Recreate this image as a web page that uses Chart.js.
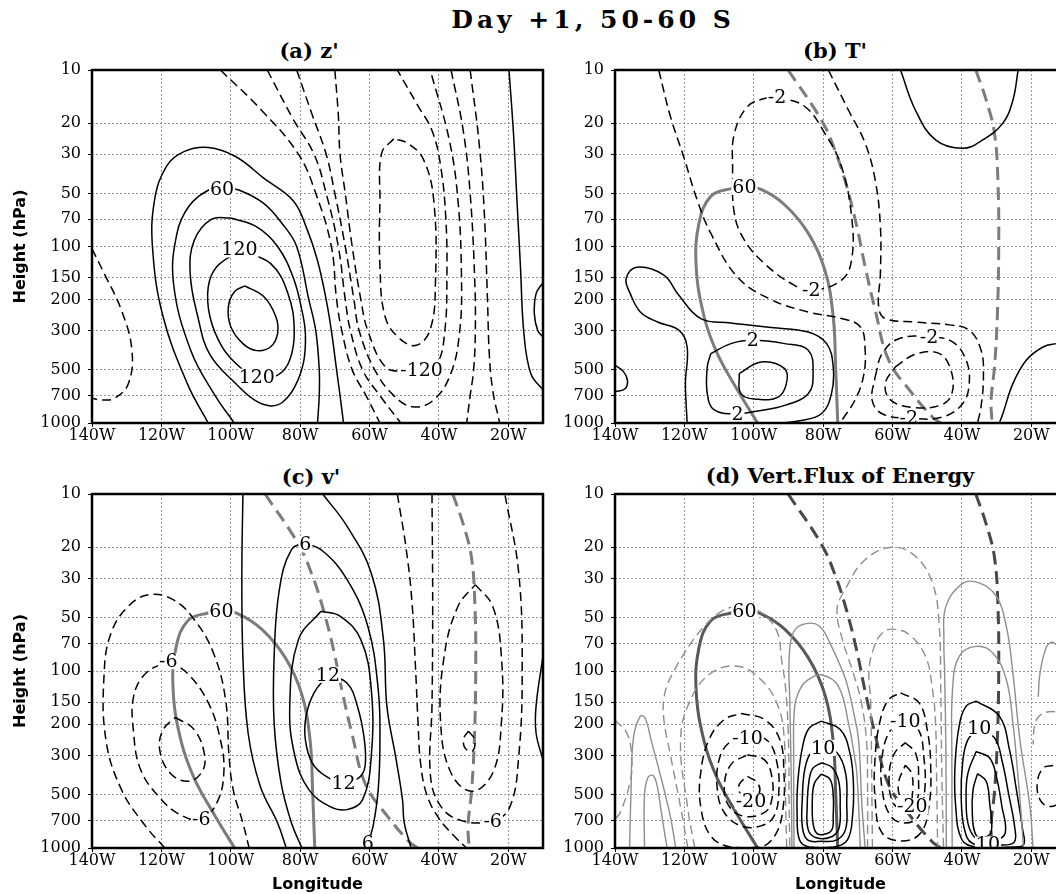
<!DOCTYPE html>
<html>
<head>
<meta charset="utf-8">
<title>Day +1, 50-60 S</title>
<script src="https://cdn.jsdelivr.net/npm/chart.js@4.4.1/dist/chart.umd.min.js"></script>
<style>
  html, body { margin: 0; padding: 0; background: #fff; overflow: hidden; }
  body { position: relative; width: 1056px; height: 894px; }
  canvas { position: absolute; }
  .ttl { position: absolute; transform: translateX(-50%); white-space: nowrap;
         font-family: "DejaVu Serif", serif; font-weight: bold; line-height: 1; color: #000; }
  #main { left: 593px; top: 7px; font-size: 25px; letter-spacing: 4px; }
  .sub { font-size: 21px; }
</style>
</head>
<body>
<div id="main" class="ttl">Day +1, 50-60 S</div>
<div class="ttl sub" style="left:309px;top:40px">(a) z'</div>
<div class="ttl sub" style="left:835px;top:40px">(b) T'</div>
<div class="ttl sub" style="left:311px;top:466px">(c) v'</div>
<div class="ttl sub" style="left:840px;top:465px">(d) Vert.Flux of Energy</div>
<canvas id="cA" width="555" height="420" style="left:0;top:40px"></canvas>
<canvas id="cB" width="550" height="420" style="left:530px;top:40px"></canvas>
<canvas id="cC" width="555" height="430" style="left:0;top:464px"></canvas>
<canvas id="cD" width="550" height="430" style="left:530px;top:464px"></canvas>
<script>
// axes
const lonTicks = [-140, -120, -100, -80, -60, -40, -20];
const presTicks = [10, 20, 30, 50, 70, 100, 150, 200, 300, 500, 700, 1000];

// contour lines, points are [longitude (negative = W), pressure hPa]

// (a) z'
const a_pos150 = [[-96,167],[-90.5,192],[-87,250],[-86.5,311],[-88.5,370],[-92.5,389],[-96.5,355],[-100,285],[-100.7,220],[-99,181],[-96,167]];
const a_pos120 = [[-97.5,106],[-88.5,125],[-83.5,185],[-81.7,298],[-83,440],[-86.5,536],[-92.5,555],[-97.5,480],[-102.5,370],[-106,250],[-106.5,170],[-104,130],[-97.5,106]];
const a_pos90 = [[-100,69],[-92.5,77.5],[-86.5,100],[-82,150],[-79.5,230],[-78.5,311],[-79,450],[-81.5,620],[-85,760],[-88.5,800],[-93,745],[-98.5,600],[-106,410],[-109.5,250],[-111.7,142],[-110.5,92],[-105.5,70],[-100,69]];
const a_pos60 = [[-99,1000],[-104.5,700],[-111.5,390],[-116.5,162],[-115.5,84],[-112,59],[-106.5,48],[-102.5,46],[-97.5,48],[-90.5,57],[-85,75],[-81,100],[-77.5,200],[-75.5,300],[-74.5,500],[-74.5,700],[-75,1000]];
const a_pos30 = [[-106.5,1000],[-112.5,600],[-119.5,250],[-122.5,105],[-122,55],[-118.5,35],[-113.5,29],[-106.5,27.5],[-98.5,31],[-90.5,41],[-82,55],[-78,80],[-75,120],[-72.5,200],[-71,300],[-69.5,500],[-68.5,700],[-67.5,1000]];
const a_posR = [[-19.8,10],[-18.5,23],[-17.5,55],[-16.5,130],[-15.5,311],[-13.5,526],[-10,650]];
const a_posR2 = [[-10,160],[-12,185],[-12.5,240],[-11.5,300],[-10,325]];
const a_neg30L = [[-103,10],[-91,17],[-80.5,30],[-75.5,50],[-71,100],[-69.5,200],[-68,300],[-65,500],[-61,700],[-57,1000]];
const a_neg60L = [[-89.5,10],[-82,19],[-76,30],[-72.5,50],[-69,100],[-67,200],[-65.5,300],[-62,500],[-57,700],[-51,1000]];
const a_neg90 = [[-81,10],[-76.5,18],[-72.5,30],[-70,50],[-67,100],[-64.5,200],[-63,300],[-58.5,500],[-53,700],[-47.5,810],[-41.5,740],[-36.5,520],[-34,300],[-33.5,150],[-34.5,55],[-37,25],[-42.5,10]];
const a_neg120 = [[-70,10],[-69,18],[-68.5,30],[-67,50],[-65,100],[-62.5,200],[-60.5,300],[-55.5,480],[-50.5,510],[-45,505],[-40.5,460],[-38.3,300],[-37.7,150],[-38,70],[-39.5,35],[-42,22],[-46,16],[-52,10]];
const a_neg150 = [[-53,24.5],[-56.5,29.6],[-57,54.6],[-57,130],[-55.5,250],[-51.5,330],[-46.5,363],[-42.5,295],[-41,160],[-41.5,54.6],[-44.5,32],[-49,26],[-53,24.5]];
const a_neg60R = [[-36.5,10],[-33,22],[-31,50],[-29.7,150],[-29.5,300],[-30,500],[-31,700],[-32,1000]];
const a_neg30R = [[-31,10],[-28.5,25],[-27,60],[-26,200],[-25.5,400],[-24.5,650],[-22.5,1000]];
const a_negL = [[-140,103],[-136.5,142],[-131.5,230],[-128.5,386],[-129.5,597],[-133.5,725],[-137.5,740],[-140,725]];
const a_labels = [[-102.5,47,'60'],[-97.5,104,'120'],[-92.5,546,'120'],[-45,500,'-120']];

// (b) T'
const b_pos1 = [[-119.2,1000],[-119.7,598],[-119.2,371],[-121.6,298],[-127.9,267],[-132.7,235],[-135.6,185],[-136.8,152],[-133.7,131],[-126,145],[-121.6,189],[-115.3,256],[-106.6,271],[-95,288],[-84.3,305],[-79,355],[-77.1,481],[-77.6,682],[-80.5,886],[-87.2,975],[-92,1000]];
const b_pos2 = [[-112.4,405],[-106.6,355],[-100.3,340],[-91.1,355],[-84.3,387],[-82.9,525],[-84.3,682],[-91.1,795],[-98.9,855],[-104.7,886],[-111.4,843],[-113.4,682],[-113.4,481],[-112.4,405]];
const b_pos3 = [[-104.2,525],[-97.9,451],[-91.1,492],[-90.6,598],[-93,713],[-98.9,734],[-103.7,682],[-104.2,525]];
const b_posTR = [[-57.7,10],[-53.4,16.9],[-47.6,24.9],[-39.8,27.8],[-34,24.9],[-28.2,20],[-25.3,14.8],[-23.8,10]];
const b_posBR = [[-29.2,1000],[-28.2,886],[-25.3,598],[-21.4,440],[-16.6,371],[-12.7,355],[-10,350]];
const b_posL = [[-140,470],[-137.6,510],[-136.4,575],[-137.1,640],[-140,665]];
const b_negA = [[-127.4,10],[-124,18.4],[-120.2,31],[-116.3,54.6],[-112.4,84],[-104.7,149],[-95,200],[-84.3,235],[-74.7,256],[-69.3,285],[-67.9,386],[-68.4,546],[-70.8,740],[-74.2,940],[-75.1,1000]];
const b_negB = [[-78.5,10],[-72.7,16.9],[-67.9,26],[-65,42],[-63.5,77],[-63.5,142],[-64,220],[-62.1,256],[-53.4,268],[-43.7,278],[-37.9,298],[-34.5,386],[-33.8,546],[-34.5,810],[-35.5,1000]];
const b_neg2U = [[-93.3,14.2],[-85.3,16.1],[-79.5,22.9],[-74.7,35.3],[-71.8,67.9],[-71.8,119],[-74.7,155],[-83.4,177],[-89.2,162],[-96.9,125],[-102.7,92],[-105.6,65],[-106.1,35.3],[-105.6,22.9],[-101.8,16.1],[-96.9,14.5],[-93.3,14.2]];
const b_neg2L = [[-65,546],[-63,405],[-58.2,333],[-49.5,325],[-42.7,347],[-38.8,440],[-37.9,598],[-39.8,777],[-45.6,925],[-54.8,940],[-63,886],[-65.9,740],[-65,546]];
const b_neg3 = [[-59.2,481],[-53.4,408],[-46.6,403],[-43.2,500],[-42.9,682],[-46.1,792],[-54.3,815],[-60.6,740],[-62.1,598],[-59.2,481]];
const b_labels = [[-102.7,46,'60'],[-93.3,14.2,'-2'],[-83.4,177,'-2'],[-100.3,340,'2'],[-104.7,886,'2'],[-49.5,325,'-2'],[-55.3,935,'-2']];

// reference lines repeated in (b), (c), (d)
const ov_g60 = [[-98.9,1000],[-104.7,650],[-110.5,405],[-114.3,250],[-116.6,130],[-115.8,74],[-112.4,52],[-106.6,47],[-102.7,46],[-97.9,47.5],[-91.1,58],[-84.3,84],[-79.5,136],[-77.1,250],[-76.4,481],[-75.8,1000]];
const ov_d1 = [[-90.1,10],[-80.5,19.2],[-76.6,28.5],[-73.2,45.8],[-70.3,77],[-67.9,130],[-65,229],[-61.1,440],[-54.3,682],[-48.5,925],[-46.1,1000]];
const ov_d2 = [[-36,10],[-33,14.8],[-30.6,22.9],[-29.6,44],[-29.4,105],[-29.8,250],[-30.6,481],[-31.6,740],[-31.3,1000]];

// (c) v'
const c_posA = [[-96.5,10],[-96.8,28],[-96.5,83],[-95,224],[-91.5,448],[-86.5,722],[-84,1000]];
const c_posB = [[-73.5,10],[-66.5,15.2],[-59.5,28],[-56,66.5],[-55,158],[-52.5,303],[-50.5,533],[-50,722],[-48,1000]];
const c_pos6 = [[-79.5,1000],[-82.5,722],[-85.5,429],[-87.5,197],[-87.5,83],[-86,34.7],[-82.5,20.6],[-78.5,19.3],[-73.5,21],[-66.5,30.4],[-60.5,55.9],[-57.5,127],[-57,244],[-57.5,468],[-59,755],[-60.5,937],[-61.5,1000]];
const c_pos9 = [[-74,46],[-68.5,49],[-62.5,66.5],[-59.5,127],[-59.5,303],[-62,533],[-66.5,607],[-71.5,582],[-77.5,468],[-81.5,303],[-83,158],[-80.5,66.5],[-74,46]];
const c_pos12 = [[-72,105],[-66.5,117],[-63.5,158],[-61.5,244],[-61.3,346],[-63,400],[-67.5,429],[-72.5,394],[-76.5,331],[-78.5,244],[-78.3,180],[-76,133],[-72,105]];
const c_posR = [[-10,82],[-12,158],[-12,224],[-10,318]];
const c_neg3L = [[-119,1000],[-124.5,755],[-131.5,468],[-136,244],[-136.5,103],[-134.5,61],[-129.5,43],[-123.5,37],[-116.5,39.6],[-110.5,51.3],[-105,79],[-101.5,145],[-100.5,303],[-99.3,468],[-96.5,722],[-94.7,1000]];
const c_neg6 = [[-118,88],[-112.5,103],[-106.5,151],[-103,244],[-102,377],[-104,555],[-108.5,690],[-114.5,650],[-120.5,520],[-126,360],[-128,224],[-128,139],[-124.5,103],[-118,88]];
const c_neg9 = [[-116,183],[-110.5,215],[-107.5,303],[-108.5,377],[-112.5,420],[-117.5,377],[-120.5,278],[-119.5,215],[-116,183]];
const c_neg3R = [[-52,10],[-49.5,20],[-47.8,40],[-46.7,100],[-46,200],[-45.3,330],[-43.5,500],[-40,680],[-35,880],[-32,1000]];
const c_neg6R = [[-42,10],[-41.8,43],[-42,158],[-42.5,377],[-40,560],[-34.5,690],[-24.5,705],[-19.5,582],[-17,303],[-16,103],[-17,27.9],[-21,10]];
const c_neg9R = [[-29.5,32.5],[-24.5,43.1],[-22,82.6],[-22,197],[-24.5,377],[-30.5,478],[-36.5,377],[-39.5,197],[-38.5,82.6],[-34.5,43.1],[-29.5,32.5]];
const c_neg12R = [[-31.5,219],[-29.7,244],[-30.3,283],[-32.5,272],[-32.8,239],[-31.5,219]];
const c_labels = [[-102.7,46,'60'],[-78.5,19.3,'6'],[-72,105,'12'],[-67.5,429,'12'],[-118,88,'-6'],[-108.5,690,'-6'],[-60.5,940,'6'],[-24.5,705,'-6']];

// (d) vertical flux of energy
const d_neg5a = [[-103.7,174],[-96.9,188],[-92.5,244],[-91.3,377],[-91.5,582],[-93.5,823],[-97.9,990],[-106.6,990],[-112.4,855],[-115.3,582],[-115.3,377],[-112.9,244],[-108.5,188],[-103.7,174]];
const d_neg10a = [[-101.8,229],[-96,248],[-93.3,331],[-92.8,489],[-94.2,662],[-97.9,750],[-103.7,750],[-108.5,630],[-110.5,468],[-110,318],[-107.1,254],[-101.8,229]];
const d_neg15a = [[-101.8,297],[-96.9,318],[-94.8,394],[-94.8,533],[-96.9,630],[-102.7,662],[-107.1,582],[-108.5,448],[-106.6,338],[-101.8,297]];
const d_neg20a = [[-101.8,394],[-98.9,429],[-98.4,489],[-100.8,545],[-103.7,500],[-104.2,438],[-101.8,394]];
const d_neg5b = [[-57.7,133],[-52.4,151],[-50,215],[-49,346],[-49.5,582],[-51.9,823],[-57.2,912],[-63,823],[-65,533],[-65,303],[-63.5,188],[-61.1,145],[-57.7,133]];
const d_neg10b = [[-56.3,193],[-52.5,215],[-51,303],[-50.7,468],[-52.5,662],[-56.3,722],[-60.5,662],[-63,468],[-63,303],[-60.5,215],[-56.3,193]];
const d_neg15b = [[-56.3,254],[-53.3,293],[-52.5,410],[-53.2,557],[-56.3,607],[-59.8,557],[-61,394],[-59.5,293],[-56.3,254]];
const d_neg20b = [[-56.3,340],[-54.5,380],[-54.2,470],[-55,560],[-57.5,530],[-58.3,430],[-56.3,340]];
const d_negR = [[-13.7,342],[-16.6,354],[-18.3,429],[-17.5,533],[-15.1,582],[-12.2,557],[-10.3,429]];
const d_pos5a = [[-80.5,192],[-75,215],[-72.3,290],[-71.3,420],[-71.5,650],[-73,900],[-77,986],[-84,986],[-86.8,900],[-87.5,650],[-87.3,420],[-85.8,260],[-84,210],[-80.5,192]];
const d_pos10a = [[-80,270],[-76,290],[-73.5,380],[-73.2,560],[-73.5,780],[-76,900],[-80.5,917],[-84.5,900],[-86,760],[-86,520],[-85.3,360],[-83.5,290],[-80,270]];
const d_pos15a = [[-80.5,330],[-77.5,350],[-75.5,420],[-75.1,580],[-75.5,780],[-78,870],[-82,875],[-84.3,790],[-84.6,580],[-84.1,420],[-83,355],[-80.5,330]];
const d_pos20a = [[-80.5,382],[-78,410],[-77.1,500],[-77.1,650],[-77.5,790],[-80,840],[-82,820],[-83,700],[-83.1,520],[-82.5,430],[-80.5,382]];
const d_pos5b = [[-35.9,148],[-29.2,180],[-26.3,278],[-24.3,468],[-22.5,788],[-22.2,957],[-25.3,986],[-35.9,986],[-40,898],[-41.8,582],[-42,346],[-40.8,205],[-38.8,158],[-35.9,148]];
const d_pos10b = [[-35,210],[-30.5,240],[-28.3,330],[-26.5,500],[-24.8,760],[-25,930],[-30,960],[-37,940],[-39.3,780],[-40.2,520],[-39.8,330],[-38.3,245],[-35,210]];
const d_pos15b = [[-35.9,285],[-32,310],[-30,400],[-28.5,580],[-27.5,820],[-30.5,910],[-35,910],[-38,760],[-38.8,520],[-38.3,380],[-35.9,285]];
const d_pos20b = [[-35.5,380],[-33,420],[-32,560],[-31.5,800],[-33.5,870],[-36,840],[-37,640],[-36.8,470],[-35.5,380]];
// (d) thin grey contours
const d_tnegL = [[-140,190],[-136.6,224],[-135.2,303],[-135.6,420],[-138.5,630],[-140,690]];
const d_tpos1 = [[-135.8,1000],[-135.4,500],[-134.7,240],[-132.7,180],[-131.3,185],[-129.5,250],[-127.5,350],[-125.5,500],[-123.8,700],[-122.5,1000]];
const d_tpos2 = [[-131.5,1000],[-131.5,500],[-130.5,400],[-129,390],[-127.8,450],[-126.8,600],[-125.8,800],[-125,1000]];
const d_tneg2 = [[-119,1000],[-121,600],[-124,300],[-126,180],[-125.5,130],[-123,100],[-118.2,70],[-114.3,56],[-110,47],[-105,43],[-100,44.5],[-96,50],[-93,62],[-92.1,83],[-90.8,127],[-90,244],[-89.8,582],[-89.6,1000]];
const d_tneg3 = [[-117,1000],[-119,600],[-121.1,244],[-118.2,145],[-112.4,103],[-104.7,94],[-97.9,112],[-93,158],[-91.2,244],[-90.8,582],[-90.5,1000]];
const d_tpos3 = [[-89,1000],[-89.2,400],[-89.6,150],[-89.8,85],[-88.5,60],[-85,54],[-81,56],[-77.6,72.6],[-74,105],[-72.7,127],[-71,180],[-69.8,244],[-68.8,582],[-67.9,1000]];
const d_tpos4 = [[-88.4,1000],[-88.5,300],[-88.2,158],[-86.5,125],[-84.3,112],[-80.5,105],[-75.6,122],[-72.7,197],[-71,300],[-70.3,377],[-69.6,700],[-69.3,1000]];
const d_tneg4 = [[-67.2,1000],[-67.2,450],[-67.5,250],[-69,150],[-71.5,100],[-74.5,66],[-76,45],[-73.7,34.7],[-67.9,23.5],[-60.1,20],[-53.4,22.5],[-48.5,31.8],[-46.6,53.5],[-46.1,127],[-45.8,377],[-45.3,1000]];
const d_tneg5 = [[-65.8,1000],[-66,400],[-66.3,150],[-66.8,100],[-65.5,75],[-63,61],[-60.1,58],[-55.3,62],[-50.5,82.6],[-48.5,127],[-47.6,197],[-47.3,400],[-47,1000]];
const d_tpos5 = [[-44.5,1000],[-44.6,300],[-45,100],[-45.2,66],[-44.6,43],[-39.8,32],[-35,31.8],[-30.1,37.8],[-27.2,56],[-25.3,103],[-23.3,244],[-20.4,582],[-19.5,1000]];
const d_tpos6 = [[-42.8,1000],[-42.9,300],[-42.7,127],[-40.8,82.6],[-35.9,72.6],[-31.1,79.1],[-27.2,112],[-25.3,197],[-23.8,400],[-22.8,700],[-22.3,1000]];
const d_tpos7 = [[-18,140],[-17.5,103],[-15.6,73],[-13.7,69],[-11.3,79],[-10,94]];
const d_tneg6 = [[-10,190],[-12.5,172],[-15,170],[-17.5,178],[-19,200],[-19.5,260]];
const d_labels = [[-102.7,46,'60'],[-101.8,240,'-10'],[-100.8,545,'-20'],[-80,272,'10'],[-56.3,193,'-10'],[-54.3,580,'-20'],[-35,210,'10'],[-32.5,955,'10']];

const styles = {
  pos:   { borderColor: '#000', borderWidth: 1.5, borderDash: [] },
  neg:   { borderColor: '#000', borderWidth: 1.5, borderDash: [9, 5] },
  gpos:  { borderColor: '#7c7c7c', borderWidth: 3, borderDash: [] },
  gneg:  { borderColor: '#7c7c7c', borderWidth: 3, borderDash: [13, 7] },
  dgpos: { borderColor: '#595959', borderWidth: 3, borderDash: [] },
  dgneg: { borderColor: '#484848', borderWidth: 3, borderDash: [13, 7] },
  tpos:  { borderColor: '#8e8e8e', borderWidth: 1.4, borderDash: [] },
  tneg:  { borderColor: '#8e8e8e', borderWidth: 1.4, borderDash: [9, 5] }
};

const framePlugin = {
  id: 'frame',
  afterDraw(chart) {
    const { ctx, chartArea: a } = chart;
    ctx.save();
    ctx.strokeStyle = '#000';
    ctx.lineWidth = 2.5;
    ctx.setLineDash([]);
    ctx.strokeRect(a.left, a.top, a.right - a.left, a.bottom - a.top);
    ctx.restore();
  }
};

function labelPlugin(items) {
  return {
    id: 'clabels',
    afterDatasetsDraw(chart) {
      const { ctx, chartArea: a, scales } = chart;
      ctx.save();
      ctx.beginPath();
      ctx.rect(a.left, a.top, a.right - a.left, a.bottom - a.top);
      ctx.clip();
      ctx.font = '19px "DejaVu Serif", serif';
      ctx.textAlign = 'center';
      ctx.textBaseline = 'middle';
      for (const [lon, p, t] of items) {
        const px = scales.x.getPixelForValue(lon);
        const py = scales.y.getPixelForValue(p);
        const w = ctx.measureText(t).width;
        ctx.fillStyle = '#fff';
        ctx.fillRect(px - w / 2 - 1, py - 8, w + 2, 16);
        ctx.fillStyle = '#000';
        ctx.fillText(t, px, py + 1);
      }
      ctx.restore();
    }
  };
}

const tickFont = { family: '"DejaVu Serif", serif', size: 16 };
const titleFont = { family: '"DejaVu Sans", sans-serif', size: 16, weight: 'bold' };

function panel(id, sets, labels, cfg) {
  const datasets = sets.map(([pts, s]) => Object.assign({
    data: pts.map(([x, y]) => ({ x, y })),
    showLine: true, pointRadius: 0, pointHoverRadius: 0, tension: 0.4, fill: false
  }, styles[s]));
  return new Chart(document.getElementById(id), {
    type: 'scatter',
    data: { datasets },
    options: {
      responsive: false, animation: false, events: [],
      layout: { padding: { top: 30, left: 0, right: cfg.padR, bottom: 0 } },
      plugins: { legend: { display: false }, tooltip: { enabled: false } },
      scales: {
        x: {
          type: 'linear', min: -140, max: -10,
          afterBuildTicks: s => { s.ticks = lonTicks.map(v => ({ value: v })); },
          afterFit: s => { s.height = cfg.xH; s.paddingLeft = 0; s.paddingRight = 0; },
          ticks: { callback: v => (-v) + 'W', font: tickFont, color: '#000', padding: -1, autoSkip: false, maxRotation: 0 },
          grid: { color: '#969696', lineWidth: 1, tickLength: 4, tickColor: '#000', tickBorderDash: [] },
          border: { display: false, dash: [2, 2] },
          title: { display: !!cfg.xTitle, text: cfg.xTitle || '', font: titleFont, color: '#000', padding: { top: 2, bottom: 0 } }
        },
        y: {
          type: 'logarithmic', reverse: true, min: 10, max: 1000,
          afterBuildTicks: s => { s.ticks = presTicks.map(v => ({ value: v })); },
          afterFit: s => { s.width = cfg.yW; s.paddingTop = 0; s.paddingBottom = 0; },
          ticks: { callback: v => String(v), font: tickFont, color: '#000', padding: 7, autoSkip: false },
          grid: { color: '#969696', lineWidth: 1, tickLength: 4, tickColor: '#000', tickBorderDash: [] },
          border: { display: false, dash: [2, 2] },
          title: { display: !!cfg.yTitle, text: cfg.yTitle || '', font: titleFont, color: '#000', padding: { top: 11, bottom: 0 } }
        }
      }
    },
    plugins: [labelPlugin(labels), framePlugin]
  });
}

const charts = [];

charts.push(panel('cA', [
  [a_negL, 'neg'], [a_neg30L, 'neg'], [a_neg60L, 'neg'], [a_neg90, 'neg'], [a_neg120, 'neg'], [a_neg150, 'neg'],
  [a_neg60R, 'neg'], [a_neg30R, 'neg'],
  [a_pos30, 'pos'], [a_pos60, 'pos'], [a_pos90, 'pos'], [a_pos120, 'pos'], [a_pos150, 'pos'], [a_posR, 'pos'], [a_posR2, 'pos']
], a_labels, { padR: 12, yW: 92, xH: 37, yTitle: 'Height (hPa)' }));

charts.push(panel('cB', [
  [b_pos1, 'pos'], [b_pos2, 'pos'], [b_pos3, 'pos'], [b_posTR, 'pos'], [b_posBR, 'pos'], [b_posL, 'pos'],
  [b_negA, 'neg'], [b_negB, 'neg'], [b_neg2U, 'neg'], [b_neg2L, 'neg'], [b_neg3, 'neg'],
  [ov_g60, 'gpos'], [ov_d1, 'gneg'], [ov_d2, 'gneg']
], b_labels, { padR: 14, yW: 85, xH: 37 }));

charts.push(panel('cC', [
  [c_posA, 'pos'], [c_posB, 'pos'], [c_pos6, 'pos'], [c_pos9, 'pos'], [c_pos12, 'pos'], [c_posR, 'pos'],
  [c_neg3L, 'neg'], [c_neg6, 'neg'], [c_neg9, 'neg'], [c_neg3R, 'neg'], [c_neg6R, 'neg'], [c_neg9R, 'neg'], [c_neg12R, 'neg'],
  [ov_g60, 'gpos'], [ov_d1, 'gneg'], [ov_d2, 'gneg']
], c_labels, { padR: 12, yW: 92, xH: 46, yTitle: 'Height (hPa)', xTitle: 'Longitude' }));

charts.push(panel('cD', [
  [d_tnegL, 'tneg'], [d_tpos1, 'tpos'], [d_tpos2, 'tpos'], [d_tneg2, 'tneg'], [d_tneg3, 'tneg'], [d_tpos3, 'tpos'], [d_tpos4, 'tpos'],
  [d_tneg4, 'tneg'], [d_tneg5, 'tneg'], [d_tpos5, 'tpos'], [d_tpos6, 'tpos'], [d_tpos7, 'tpos'], [d_tneg6, 'tneg'],
  [d_neg5a, 'neg'], [d_neg10a, 'neg'], [d_neg15a, 'neg'], [d_neg20a, 'neg'],
  [d_neg5b, 'neg'], [d_neg10b, 'neg'], [d_neg15b, 'neg'], [d_neg20b, 'neg'], [d_negR, 'neg'],
  [d_pos5a, 'pos'], [d_pos10a, 'pos'], [d_pos15a, 'pos'], [d_pos20a, 'pos'],
  [d_pos5b, 'pos'], [d_pos10b, 'pos'], [d_pos15b, 'pos'], [d_pos20b, 'pos'],
  [ov_g60, 'dgpos'], [ov_d1, 'dgneg'], [ov_d2, 'dgneg']
], d_labels, { padR: 14, yW: 85, xH: 46, xTitle: 'Longitude' }));

// redraw once the serif face is ready, in case the first pass used a fallback
if (document.fonts && document.fonts.load) {
  document.fonts.load('16px "DejaVu Serif"').then(() => charts.forEach(c => c.update()));
}
</script>
</body>
</html>
